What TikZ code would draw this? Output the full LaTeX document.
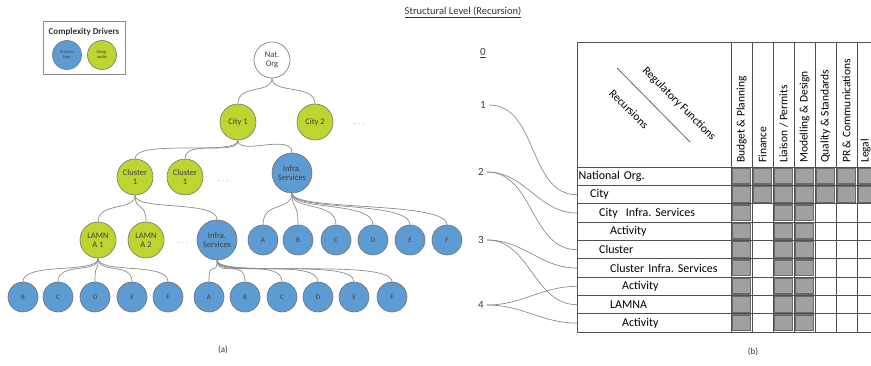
\documentclass[tikz,border=0pt]{standalone}
\usepackage{fontspec}
\setmainfont{Carlito}
\usetikzlibrary{calc}
\frenchspacing

\definecolor{techblue}{RGB}{93,155,211}
\definecolor{geogreen}{RGB}{190,213,48}
\definecolor{gridline}{RGB}{80,80,80}
\definecolor{cellfill}{RGB}{160,160,160}
\definecolor{celledge}{RGB}{105,105,105}
\definecolor{wire}{RGB}{140,140,140}

\begin{document}
\begin{tikzpicture}[x=1pt,y=-1pt,
  every node/.style={inner sep=0pt, text=black!85},
  circ/.style={circle, draw=black!55, line width=0.6pt, align=center,
               font=\fontsize{8.5}{9}\selectfont, text=black!75},
  bigc/.style={circ, minimum size=36pt},
  hugec/.style={circ, minimum size=40pt},
  smallc/.style={circ, minimum size=30pt, font=\fontsize{7}{8}\selectfont},
  tech/.style={fill=techblue},
  geo/.style={fill=geogreen},
  plainc/.style={fill=white},
  ellip/.style={font=\fontsize{9}{10}\selectfont, text=black!60},
  branch/.style={draw=wire, line width=0.7pt},
  link/.style={draw=wire, line width=0.7pt},
  num/.style={font=\fontsize{11}{12}\selectfont, text=black!75},
  rowcell/.style={minimum width=154pt, minimum height=18.33pt, text width=154pt,
                  align=left, font=\fontsize{12}{13}\selectfont, text=black},
  hdr/.style={rotate=90, anchor=west, font=\fontsize{11.5}{12}\selectfont, text=black},
  gridl/.style={draw=gridline, line width=0.8pt},
  greycell/.style={fill=cellfill, draw=celledge, line width=1.5pt},
  caption/.style={font=\fontsize{9}{10}\selectfont, text=black!80}
]
\useasboundingbox (0,0) rectangle (871,366);
\clip (0,0) rectangle (871,366);

% ---------- legend ----------
\node[draw=black!45, line width=0.9pt, minimum width=82pt, minimum height=53pt] (legend) at (84,47.5) {};
\node[font=\bfseries\fontsize{9}{10}\selectfont, text=black!80] (legtitle) at (84,32) {Complexity Drivers};
\node[circ, tech, minimum size=29pt, font=\fontsize{4.5}{5}\selectfont] (legtech) at (67,55) {Techno-\\logy};
\node[circ, geo, minimum size=29pt, font=\fontsize{4.5}{5}\selectfont] (leggeo) at (102,55) {Geog-\\raphy};

% ---------- tree ----------
\node[bigc, plainc] (nat) at (272,60) {Nat.\\Org};
\node[bigc, geo] (city1) at (238,122) {City 1};
\node[bigc, geo] (city2) at (315,122) {City 2};
\node[ellip] (dots1) at (359,124) {$\cdots$};

\node[bigc, geo] (cl1) at (135,177) {Cluster\\1};
\node[bigc, geo] (cl2) at (185,177) {Cluster\\1};
\node[ellip] (dots2) at (223,181) {$\cdots$};
\node[hugec, tech] (inf2) at (292,173) {Infra.\\Services};

\node[bigc, geo] (la1) at (98,240) {LAMN\\A 1};
\node[bigc, geo] (la2) at (146,240) {LAMN\\A 2};
\node[ellip] (dots3) at (183,243) {$\cdots$};
\node[hugec, tech] (inf3) at (217,240) {Infra.\\Services};

\foreach \n/\x in {A/263,B/298,C/336,D/373,E/410,F/447}
  \node[smallc, tech] (s\n) at (\x,240) {\n};
\foreach \n/\x in {B/23,C/58,D/95,E/132,F/168}
  \node[smallc, tech] (l\n) at (\x,297) {\n};
\foreach \n/\x in {A/209,B/245,C/282,D/318,E/354,F/392}
  \node[smallc, tech] (r\n) at (\x,297) {\n};

% tree branches
\foreach \p/\c in {nat/city1, nat/city2,
                   city1/cl1, city1/cl2, city1/inf2,
                   cl1/la1, cl1/la2, cl1/inf3}
  \draw[branch] (\p.south) .. controls +(0,16) and +(0,-20) .. (\c.north);
\foreach \c in {A,B,C,D,E,F}
  \draw[branch] (inf2.south) .. controls +(0,18) and +(0,-24) .. (s\c.north);
\foreach \c in {B,C,D,E,F}
  \draw[branch] (la1.south) .. controls +(0,16) and +(0,-20) .. (l\c.north);
\foreach \c in {A,B,C,D,E,F}
  \draw[branch] (inf3.south) .. controls +(0,18) and +(0,-24) .. (r\c.north);

\node[caption] (capa) at (223,350) {(a)};

% ---------- recursion table ----------
\node[font=\fontsize{10.5}{12}\selectfont, text=black!80] (title) at (463,12) {\underline{Structural Level (Recursion)}};

\node[num] (n0) at (483,53) {\underline{0}};
\node[num] (n1) at (483,105) {1};
\node[num] (n2) at (481,172) {2};
\node[num] (n3) at (481,240) {3};
\node[num] (n4) at (481,305) {4};

\def\rowh{18.333}
% grid
\draw[gridl] (577,42) rectangle (878,332);
\draw[gridl] (577,167) -- (878,167);
\foreach \i in {1,...,8}
  \draw[gridl] (577,{167+\i*\rowh}) -- (878,{167+\i*\rowh});
\foreach \x in {731,752,...,857}
  \draw[gridl] (\x,42) -- (\x,332);

% marked cells
\foreach \r in {0,1}
  \foreach \c in {0,...,6}
    \draw[greycell] ({731+21*\c+1.4},{167+\r*\rowh+1.4}) rectangle ({731+21*(\c+1)-1.4},{167+(\r+1)*\rowh-1.4});
\foreach \r in {2,...,8}
  \foreach \c in {0,2,3}
    \draw[greycell] ({731+21*\c+1.4},{167+\r*\rowh+1.4}) rectangle ({731+21*(\c+1)-1.4},{167+(\r+1)*\rowh-1.4});

% row labels
\foreach \i/\ind/\txt in {0/1.5/National Org., 1/13/City, 2/22/City\ \ Infra. Services,
                          3/33/Activity, 4/22/Cluster, 5/33/Cluster Infra. Services,
                          6/45/Activity, 7/33/LAMNA, 8/45/Activity}
  \node[rowcell, anchor=north west] (row\i) at (577,{167+\i*\rowh}) {\hspace*{\ind pt}\txt};

% column headings
\node[hdr] (h1) at (741.5,163) {Budget \& Planning};
\node[hdr] (h2) at (762.5,163) {Finance};
\node[hdr] (h3) at (783.5,163) {Liaison / Permits};
\node[hdr] (h4) at (804.5,163) {Modelling \& Design};
\node[hdr] (h5) at (825.5,163) {Quality \& Standards};
\node[hdr] (h6) at (846.5,163) {PR \& Communications};
\node[hdr] (h7) at (865.5,163) {Legal};

% corner heading
\draw[draw=black!60, line width=0.8pt] (617,68) -- (690,142);
\node[rotate=-45, font=\fontsize{11.5}{12}\selectfont, text=black] (regf) at (679,104) {Regulatory Functions};
\node[rotate=-45, font=\fontsize{11.5}{12}\selectfont, text=black] (recs) at (629,109) {Recursions};

% level links
\draw[link] ([xshift=3pt]n1.east) to[out=0,in=180] (row1.west);
\draw[link] ([xshift=3pt]n2.east) to[out=0,in=180] (row2.west);
\draw[link] ([xshift=3pt]n2.east) to[out=0,in=180] (row4.west);
\draw[link] ([xshift=3pt]n3.east) to[out=0,in=180] (row5.west);
\draw[link] ([xshift=3pt]n3.east) to[out=0,in=180] (row7.west);
\draw[link] ([xshift=3pt]n4.east) to[out=0,in=180] (row6.west);
\draw[link] ([xshift=3pt]n4.east) to[out=0,in=180] (row8.west);

\node[caption] (capb) at (753,352) {(b)};
\end{tikzpicture}
\end{document}
